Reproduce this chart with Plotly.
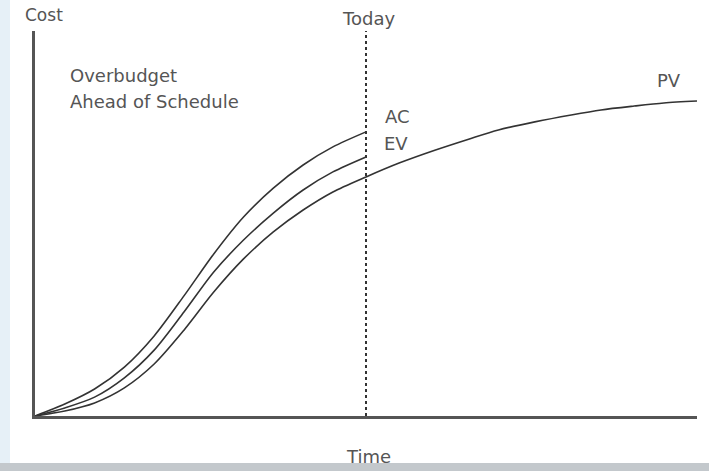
import plotly.graph_objects as go

# ---- data (time 0-100, cost 0-100) ----
ac_time = [0, 4.5, 9, 13.5, 18, 22.5, 27, 31.5, 36, 40.5, 45, 50]
ac_cost = [0, 3.1, 7.0, 12.7, 20.8, 31.2, 42.1, 51.7, 59.2, 65.2, 69.9, 73.8]

ev_time = [0, 4.5, 9, 13.5, 18, 22.5, 27, 31.5, 36, 40.5, 45, 50]
ev_cost = [0, 2.1, 4.9, 9.9, 17.1, 27.0, 37.4, 45.7, 52.7, 58.7, 63.4, 67.3]

pv_time = [0, 4.5, 9, 13.5, 18, 22.5, 27, 31.5, 36, 40.5, 45, 50,
           55, 60.5, 65.5, 70, 75.5, 81, 85.5, 90.5, 95, 100]
pv_cost = [0, 1.3, 3.4, 7.3, 13.5, 22.3, 32.2, 40.8, 47.8, 53.5, 58.2, 62.1,
           65.7, 69.1, 71.9, 74.3, 76.4, 78.2, 79.5, 80.5, 81.3, 81.8]

today_time = 50

LINE = "#333333"
TEXT = "#555555"
FONT = "DejaVu Sans"

fig = go.Figure()
for t, c in [(ac_time, ac_cost), (ev_time, ev_cost), (pv_time, pv_cost)]:
    fig.add_trace(go.Scatter(x=t, y=c, mode="lines",
                             line=dict(color=LINE, width=1.6, shape="spline", smoothing=0.8),
                             hoverinfo="skip", showlegend=False))

# pixel -> paper helpers (plot area: x 35..697, y 31..416)
def px(xp):
    return (xp - 35) / 662.0
def py(yp):
    return (416 - yp) / 385.0

# background panel (slide look)
fig.add_shape(type="rect", xref="paper", yref="paper",
              x0=px(10), x1=px(712), y0=py(463), y1=py(-3),
              fillcolor="white", line=dict(width=0), layer="below")
fig.add_shape(type="rect", xref="paper", yref="paper",
              x0=px(-3), x1=px(712), y0=py(474), y1=py(463),
              fillcolor="#c3c8cc", line=dict(width=0), layer="below")

# Today dashed line
fig.add_shape(type="line", xref="x", yref="y", x0=today_time, x1=today_time, y0=0, y1=100,
              line=dict(color="#333333", width=2, dash="dot"))

def ann(text, x, y, xanchor="center", size=18):
    fig.add_annotation(text=text, x=x, y=y, xref="paper", yref="paper", showarrow=False,
                       xanchor=xanchor, yanchor="middle",
                       font=dict(family=FONT, size=size, color=TEXT))

ann("Cost", px(44), py(15), size=17)
ann("Today", px(368), py(18))
ann("Time", px(368), py(456))
ann("Overbudget", px(68), py(75), xanchor="left")
ann("Ahead of Schedule", px(68), py(102), xanchor="left")
ann("AC", px(383), py(117), xanchor="left")
ann("EV", px(382), py(143), xanchor="left")
ann("PV", px(655), py(80), xanchor="left")

fig.update_layout(
    width=709, height=471,
    margin=dict(l=35, r=12, t=31, b=55),
    paper_bgcolor="#e6f0f7",
    plot_bgcolor="rgba(0,0,0,0)",
    xaxis=dict(range=[0, 100], showgrid=False, zeroline=False, showticklabels=False,
               ticks="", showline=True, linecolor="#555555", linewidth=2.5, fixedrange=True),
    yaxis=dict(range=[0, 100], showgrid=False, zeroline=False, showticklabels=False,
               ticks="", showline=True, linecolor="#555555", linewidth=2.5, fixedrange=True),
)

fig.write_html("out.html", config={"displayModeBar": False},
               post_script="document.body.style.margin='0';document.body.style.overflow='hidden';")
